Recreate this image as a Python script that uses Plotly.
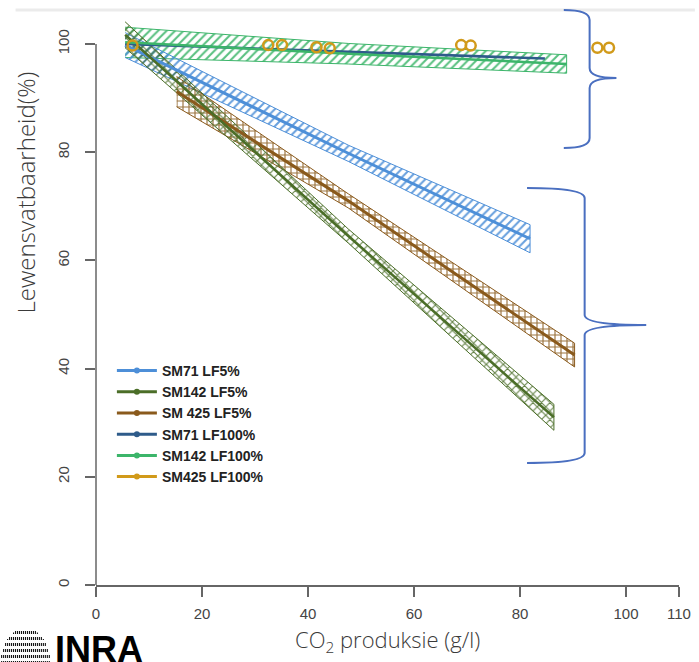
import plotly.graph_objects as go
import math

# ---------------- data ----------------
series_names = ["SM71 LF5%", "SM142 LF5%", "SM 425 LF5%", "SM71 LF100%", "SM142 LF100%", "SM425 LF100%"]
series_colors = ["#4d8fd8", "#4b6e28", "#8a5a1c", "#2e5b8a", "#3cb56a", "#d19a1a"]

# SM71 LF5%
sm71_lf5_x = [5.5, 47.6, 81.9]
sm71_lf5_y = [99.8, 79.8, 64.0]
sm71_lf5_hw = [2.3, 1.5, 2.6]

# SM142 LF5%
sm142_lf5_x = [5.5, 47.6, 86.4]
sm142_lf5_y = [101.7, 64.5, 31.0]
sm142_lf5_hw = [2.4, 1.3, 2.4]

# SM 425 LF5%
sm425_lf5_x = [15.2, 47.6, 90.3]
sm425_lf5_y = [91.2, 71.0, 42.5]
sm425_lf5_hw = [2.8, 1.3, 2.2]

# SM71 LF100%
sm71_lf100_x = [5.5, 84.7]
sm71_lf100_y = [100.0, 97.3]

# SM142 LF100%
sm142_lf100_x = [5.5, 47.6, 88.8]
sm142_lf100_y = [100.3, 98.2, 96.3]
sm142_lf100_hw = [2.8, 1.9, 1.7]

# SM425 LF100% (points)
sm425_lf100_x = [6.9, 32.5, 35.1, 41.6, 44.1, 68.9, 70.7, 94.6, 96.8]
sm425_lf100_y = [99.7, 99.8, 99.8, 99.4, 99.2, 99.8, 99.7, 99.3, 99.3]

x_ticks = [0, 20, 40, 60, 80, 100, 110]
y_ticks = [0, 20, 40, 60, 80, 100]
x_range = [0, 110]
y_range = [0, 106.65]

# ---------------- figure ----------------
W, H = 699, 662
ML, MR, MT, MB = 96, 16, 8, 77
PW, PH = W - ML - MR, H - MT - MB


def px2paper(px, py):
    return (px - ML) / PW, (H - MB - py) / PH


fig = go.Figure()


def band(x, y, hw, color, shape):
    up = [a + b for a, b in zip(y, hw)]
    lo = [a - b for a, b in zip(y, hw)]
    fig.add_trace(go.Scatter(
        x=x + x[::-1], y=up + lo[::-1], mode="lines", fill="toself",
        line=dict(color=color, width=1),
        fillcolor="rgba(255,255,255,0)",
        fillpattern=dict(shape=shape, fgcolor=color, bgcolor="rgba(255,255,255,0)",
                         size=6, solidity=0.35, fgopacity=0.85),
        showlegend=False, hoverinfo="skip"))


band(sm142_lf100_x, sm142_lf100_y, sm142_lf100_hw, series_colors[4], "/")
band(sm71_lf5_x, sm71_lf5_y, sm71_lf5_hw, series_colors[0], "/")
band(sm425_lf5_x, sm425_lf5_y, sm425_lf5_hw, series_colors[2], "+")
band(sm142_lf5_x, sm142_lf5_y, sm142_lf5_hw, series_colors[1], "x")

lines = [
    (sm71_lf5_x, sm71_lf5_y, 0, 3),
    (sm425_lf5_x, sm425_lf5_y, 2, 3),
    (sm142_lf5_x, sm142_lf5_y, 1, 2.5),
    (sm71_lf100_x, sm71_lf100_y, 3, 2.5),
    (sm142_lf100_x, sm142_lf100_y, 4, 2.5),
]
for xs, ys, i, w in lines:
    fig.add_trace(go.Scatter(x=xs, y=ys, mode="lines",
                             line=dict(color=series_colors[i], width=w),
                             showlegend=False, hoverinfo="skip"))

fig.add_trace(go.Scatter(x=sm425_lf100_x, y=sm425_lf100_y, mode="markers",
                         marker=dict(symbol="circle-open", size=10,
                                     line=dict(width=2.5, color=series_colors[5]),
                                     color=series_colors[5]),
                         showlegend=False))

# legend entries
for name, c in zip(series_names, series_colors):
    fig.add_trace(go.Scatter(x=[None], y=[None], mode="lines+markers", name=name,
                             line=dict(color=c, width=3), marker=dict(color=c, size=6)))

shapes = []
# y axis line (0..100)
shapes.append(dict(type="line", xref="paper", yref="paper",
                   x0=0, x1=0, y0=0, y1=100 / y_range[1],
                   line=dict(color="#666", width=1.5)))
# top light rule
x0p, y0p = px2paper(15, 10)
x1p, _ = px2paper(699, 10)
shapes.append(dict(type="line", xref="paper", yref="paper", x0=x0p, x1=x1p, y0=y0p, y1=y0p,
                   line=dict(color="#ebebeb", width=3)))


def brace(x_end, x_vert, x_tip, y_top, y_tip, y_bot):
    def P(px, py):
        a, b = px2paper(px, py)
        return f"{a:.5f},{b:.5f}"
    r = 10
    path = (f"M {P(x_end, y_top)} Q {P(x_vert, y_top)} {P(x_vert, y_top + r)} "
            f"L {P(x_vert, y_tip - r)} Q {P(x_vert, y_tip)} {P(x_tip, y_tip)} "
            f"Q {P(x_vert, y_tip)} {P(x_vert, y_tip + r)} "
            f"L {P(x_vert, y_bot - r)} Q {P(x_vert, y_bot)} {P(x_end, y_bot)}")
    return dict(type="path", xref="paper", yref="paper", path=path,
                line=dict(color="#4a6fc0", width=2))


shapes.append(brace(567, 593, 620, 10, 78, 148))
shapes.append(brace(530, 588, 650, 188, 325, 463))

# INRA logo lines (dome)
cx, cy, rx, ry = 25, 664, 25, 36
for k in range(-12, 13):
    px = cx + k * 2.0
    t = (px - cx) / rx
    if abs(t) >= 1:
        continue
    h = ry * math.sqrt(1 - t * t)
    a0, b0 = px2paper(px, cy)
    a1, b1 = px2paper(px, cy - h)
    shapes.append(dict(type="line", xref="paper", yref="paper", x0=a0, x1=a1, y0=b0, y1=b1,
                       line=dict(color="#111", width=1.1, dash="dot")))

annotations = []
ax, ay = px2paper(26, 192)
annotations.append(dict(text="Lewensvatbaarheid(%)", xref="paper", yref="paper", x=ax, y=ay,
                        xanchor="center", yanchor="middle",
                        textangle=-90, showarrow=False,
                        font=dict(family="Open Sans", size=24, color="#3a3a3a", weight=300)))
ax, ay = px2paper(390, 641)
annotations.append(dict(text="CO<sub>2</sub> produksie (g/l)", xref="paper", yref="paper", x=ax, y=ay,
                        xanchor="center", yanchor="middle", showarrow=False,
                        font=dict(family="Open Sans", size=22, color="#3a3a3a", weight=300)))
ax, ay = px2paper(53, 649)
annotations.append(dict(text="<b>INRA</b>", xref="paper", yref="paper", x=ax, y=ay,
                        xanchor="left", yanchor="middle", showarrow=False,
                        font=dict(family="Liberation Sans Narrow, Liberation Sans", size=36, color="#000")))

lx, ly = px2paper(112, 355)

fig.update_layout(
    width=W, height=H,
    margin=dict(l=ML, r=MR, t=MT, b=MB),
    paper_bgcolor="white", plot_bgcolor="white",
    shapes=shapes, annotations=annotations,
    legend=dict(x=lx, y=ly, xanchor="left", yanchor="top", bgcolor="rgba(255,255,255,0)",
                font=dict(family="Liberation Sans, Arial", size=14, color="#222", weight="bold"),
                tracegroupgap=0, itemwidth=40),
    xaxis=dict(range=x_range, tickvals=x_ticks, ticktext=[str(v) for v in x_ticks],
               showgrid=False, zeroline=False, showline=True, linecolor="#666", linewidth=1.5,
               ticks="outside", ticklen=10, tickcolor="#666", tickwidth=1.5,
               ticklabelstandoff=4,
               tickfont=dict(family="Liberation Sans, Arial", size=15, color="#444")),
    yaxis=dict(range=y_range, tickvals=y_ticks, ticktext=[str(v) for v in y_ticks],
               showgrid=False, zeroline=False, showline=False,
               ticks="outside", ticklen=10, tickcolor="#666", tickwidth=1.5,
               tickangle=-90, ticklabelstandoff=10,
               tickfont=dict(family="Liberation Sans, Arial", size=15, color="#444")),
)

fig.write_html("out.html")
